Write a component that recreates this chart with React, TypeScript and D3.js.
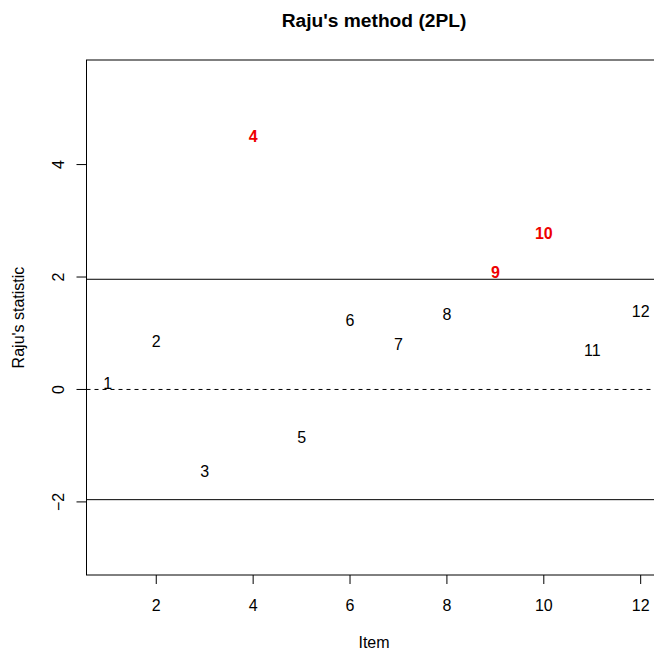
import React, { useRef, useEffect } from 'react';
import * as d3 from 'd3';

// Raju's statistic per item
const items = [1, 2, 3, 4, 5, 6, 7, 8, 9, 10, 11, 12];
const rajuStat = [0.11, 0.86, -1.45, 4.51, -0.85, 1.23, 0.81, 1.34, 2.09, 2.78, 0.70, 1.38];
const flagged = [4, 9, 10];
const xTicks = [2, 4, 6, 8, 10, 12];
const yTicks = [-2, 0, 2, 4];
const threshold = 1.96;

const App = () => {
    const svgRef = useRef<SVGSVGElement>(null);

    useEffect(() => {
        const svg = d3.select(svgRef.current);
        svg.selectAll('*').remove();

        const width = 654, height = 652;
        const left = 86.5, top = 60, bottom = 575;
        const font = 'Liberation Sans, Arial, Helvetica, sans-serif';

        const x = d3.scaleLinear().domain([0.56, 12.44]).range([left, 662]);
        const y = d3.scaleLinear().domain([-3.30, 5.86]).range([bottom, top]);

        svg.attr('width', width).attr('height', height);
        svg.append('rect').attr('width', width).attr('height', height).attr('fill', 'white');

        // reference lines
        [threshold, -threshold].forEach(v => {
            svg.append('line')
                .attr('x1', left).attr('x2', x(12.44))
                .attr('y1', y(v)).attr('y2', y(v))
                .attr('stroke', '#000').attr('stroke-width', 1);
        });
        svg.append('line')
            .attr('x1', left).attr('x2', x(12.44))
            .attr('y1', y(0)).attr('y2', y(0))
            .attr('stroke', '#000').attr('stroke-width', 1)
            .attr('stroke-dasharray', '4,4');

        // plot box
        svg.append('rect')
            .attr('x', left).attr('y', top)
            .attr('width', x(12.44) - left).attr('height', bottom - top)
            .attr('fill', 'none').attr('stroke', '#000').attr('stroke-width', 1);

        // x axis
        const xa = svg.append('g');
        xTicks.forEach(t => {
            xa.append('line')
                .attr('x1', x(t)).attr('x2', x(t))
                .attr('y1', bottom).attr('y2', bottom + 9)
                .attr('stroke', '#000');
            xa.append('text')
                .attr('x', x(t)).attr('y', 611)
                .attr('text-anchor', 'middle')
                .style('font-family', font).style('font-size', '16px')
                .text(t);
        });

        // y axis
        const ya = svg.append('g');
        yTicks.forEach(t => {
            ya.append('line')
                .attr('x1', left - 10).attr('x2', left)
                .attr('y1', y(t)).attr('y2', y(t))
                .attr('stroke', '#000');
            ya.append('text')
                .attr('transform', `translate(64,${y(t)}) rotate(-90)`)
                .attr('text-anchor', 'middle')
                .style('font-family', font).style('font-size', '16px')
                .text(t === -2 ? '\u22122' : t);
        });

        // item labels
        svg.selectAll('text.item')
            .data(items)
            .enter()
            .append('text')
            .attr('class', 'item')
            .attr('x', d => x(d))
            .attr('y', (d, i) => y(rajuStat[i]))
            .attr('dy', '0.35em')
            .attr('text-anchor', 'middle')
            .style('font-family', font).style('font-size', '16px')
            .style('font-weight', d => flagged.includes(d) ? 'bold' : 'normal')
            .style('fill', d => flagged.includes(d) ? '#ee0000' : '#000')
            .text(d => d);

        // title and axis labels
        svg.append('text')
            .attr('x', 374).attr('y', 27)
            .attr('text-anchor', 'middle')
            .style('font-family', font).style('font-size', '19.2px').style('font-weight', 'bold')
            .text("Raju's method (2PL)");

        svg.append('text')
            .attr('x', 374).attr('y', 648)
            .attr('text-anchor', 'middle')
            .style('font-family', font).style('font-size', '16px')
            .text('Item');

        svg.append('text')
            .attr('transform', `translate(24,${(top + bottom) / 2}) rotate(-90)`)
            .attr('text-anchor', 'middle')
            .style('font-family', font).style('font-size', '16px')
            .text("Raju's statistic");
    }, []);

    return (
        <div style={{ position: 'absolute', left: 0, top: 0 }}>
            <svg ref={svgRef}></svg>
        </div>
    );
};

export default App;
